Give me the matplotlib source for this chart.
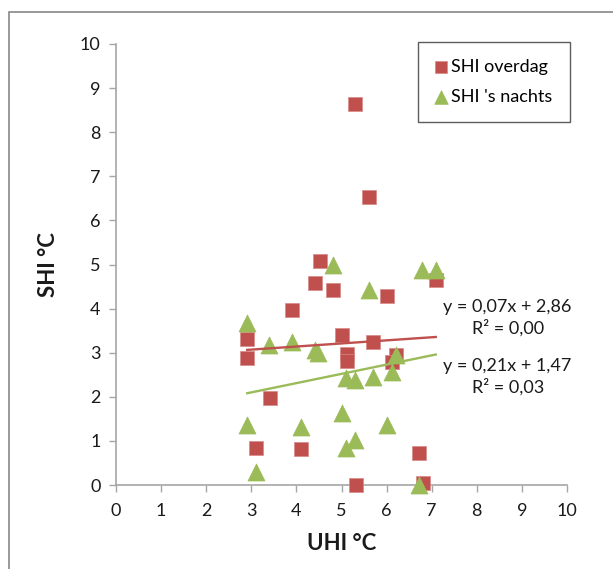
import matplotlib
matplotlib.use("Agg")
import matplotlib.pyplot as plt
from matplotlib.patches import Rectangle

plt.rcParams['font.family'] = ['Lato', 'DejaVu Sans']

# SHI overdag (red squares)
uhi_dag = [5.30, 5.61, 4.53, 4.41, 4.81, 3.91, 6.01, 7.09, 2.91, 2.91, 5.01,
           5.12, 5.12, 5.70, 6.21, 6.11, 3.41, 3.11, 4.11, 5.32, 6.72, 6.80]
shi_dag = [8.64, 6.53, 5.08, 4.58, 4.42, 3.97, 4.29, 4.65, 3.31, 2.88, 3.40,
           2.97, 2.81, 3.24, 2.95, 2.79, 1.97, 0.84, 0.82, 0.00, 0.73, 0.04]

# SHI 's nachts (green triangles)
uhi_nacht = [5.60, 4.81, 6.78, 7.09, 2.91, 3.40, 3.90, 4.41, 4.48, 6.21, 5.09,
             5.30, 5.70, 6.11, 2.91, 4.10, 5.00, 6.00, 5.30, 5.09, 3.10, 6.72]
shi_nacht = [4.42, 4.99, 4.88, 4.88, 3.67, 3.17, 3.24, 3.06, 2.99, 2.95, 2.43,
             2.38, 2.45, 2.56, 1.36, 1.32, 1.63, 1.36, 1.02, 0.84, 0.30, 0.00]

# trendlines as shown on the chart (slope, intercept, R2)
trend_dag = (0.07, 2.86, 0.00)
trend_nacht = (0.21, 1.47, 0.03)

rood = '#C0504D'
groen = '#9BBB59'
grijs = '#A6A6A6'

W, H = 613, 569
fig = plt.figure(figsize=(W / 100, H / 100), dpi=100)
ax = fig.add_axes([116 / W, 1 - 485 / H, (567 - 116) / W, (485 - 44) / H])

fig.patches.append(Rectangle((8.5 / W, -0.1), 1.2, 1.1 - 12 / H,
                             transform=fig.transFigure, fill=False,
                             edgecolor='#888888', linewidth=1.2))

ax.scatter(uhi_dag, shi_dag, marker='s', s=112, color=rood, edgecolors='#D98A88',
           linewidths=0.5, label='SHI overdag', zorder=3, clip_on=False)
ax.scatter(uhi_nacht, shi_nacht, marker='^', s=150, color=groen, edgecolors=groen,
           linewidths=0.5, label="SHI 's nachts", zorder=3, clip_on=False)


def trendlijn(xs, coef, kleur):
    a, b, _ = coef
    x0, x1 = min(xs), max(xs)
    ax.plot([x0, x1], [a * x0 + b, a * x1 + b], color=kleur, lw=1.7, zorder=4)


trendlijn(uhi_dag, trend_dag, rood)
trendlijn(uhi_nacht, trend_nacht, groen)


def fmt(v):
    return f'{v:.2f}'.replace('.', ',')


for coef, ytop in [(trend_dag, 307), (trend_nacht, 366)]:
    a, b, r2 = coef
    ax.text(507 / W, 1 - ytop / H, f'y = {fmt(a)}x + {fmt(b)}', transform=fig.transFigure,
            ha='center', va='center', fontsize=13, color='#1a1a1a')
    ax.text(508 / W, 1 - (ytop + 21) / H, f'R² = {fmt(r2)}', transform=fig.transFigure,
            ha='center', va='center', fontsize=13, color='#1a1a1a')

ax.set_xlim(0, 10)
ax.set_ylim(0, 10)
ax.set_xticks(range(0, 11))
ax.set_yticks(range(0, 11))
for s in ['top', 'right']:
    ax.spines[s].set_visible(False)
for s in ['left', 'bottom']:
    ax.spines[s].set_color(grijs)
    ax.spines[s].set_linewidth(1.2)
ax.tick_params(axis='both', direction='out', length=5, width=1, color=grijs,
               labelsize=13, labelcolor='#1a1a1a', pad=6)
ax.tick_params(axis='x', pad=8)
ax.set_xlabel('UHI °C', fontsize=16, fontweight='bold', labelpad=10, color='#1a1a1a')
ax.set_ylabel('SHI °C', fontsize=16, fontweight='bold', labelpad=15, color='#1a1a1a')

leg = ax.legend(loc='upper left', bbox_to_anchor=(418 / W, 1 - 42 / H),
                bbox_transform=fig.transFigure, fontsize=13, frameon=True,
                fancybox=False, edgecolor='#333333', borderpad=0.95,
                labelspacing=0.75, handlelength=0.6, handletextpad=0.3,
                markerscale=0.8, borderaxespad=0)
leg.get_frame().set_linewidth(1.0)

fig.savefig('out.png', dpi=100)
